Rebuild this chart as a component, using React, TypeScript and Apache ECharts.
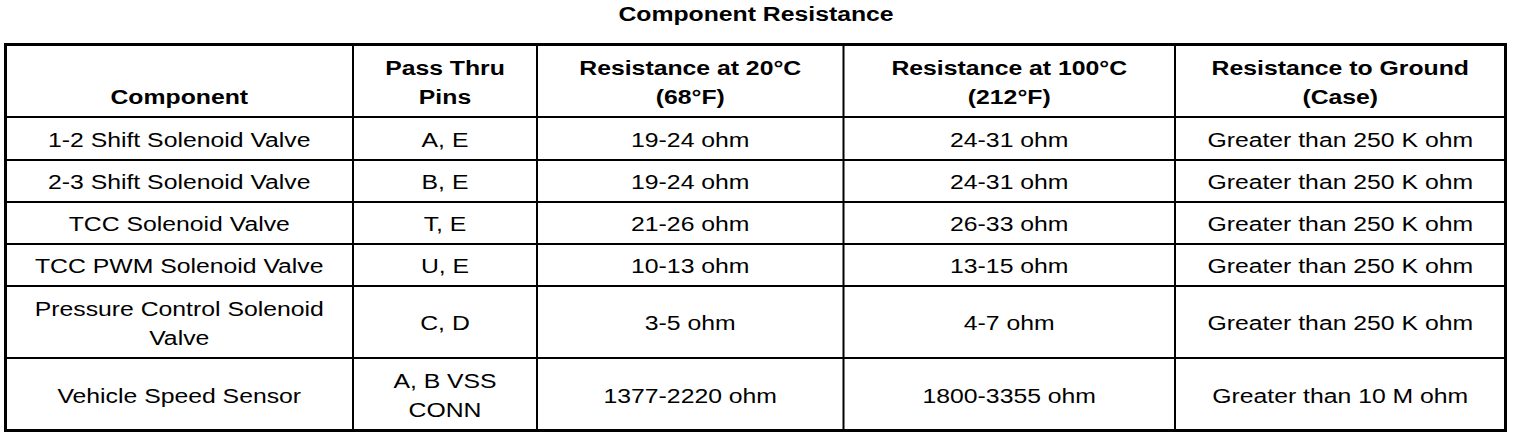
import { useEffect, useRef } from 'react';
import * as echarts from 'echarts';

const title = 'Component Resistance';

const headers = [
  'Component',
  'Pass Thru\nPins',
  'Resistance at 20°C\n(68°F)',
  'Resistance at 100°C\n(212°F)',
  'Resistance to Ground\n(Case)',
];

const components = [
  '1-2 Shift Solenoid Valve',
  '2-3 Shift Solenoid Valve',
  'TCC Solenoid Valve',
  'TCC PWM Solenoid Valve',
  'Pressure Control Solenoid\nValve',
  'Vehicle Speed Sensor',
];

const passThruPins = ['A, E', 'B, E', 'T, E', 'U, E', 'C, D', 'A, B VSS\nCONN'];

const resistance20C = ['19-24 ohm', '19-24 ohm', '21-26 ohm', '10-13 ohm', '3-5 ohm', '1377-2220 ohm'];

const resistance100C = ['24-31 ohm', '24-31 ohm', '26-33 ohm', '13-15 ohm', '4-7 ohm', '1800-3355 ohm'];

const resistanceGround = [
  'Greater than 250 K ohm',
  'Greater than 250 K ohm',
  'Greater than 250 K ohm',
  'Greater than 250 K ohm',
  'Greater than 250 K ohm',
  'Greater than 10 M ohm',
];

// table layout (page pixels)
const colEdges = [5.5, 353, 537, 843.5, 1175, 1505.5];
const rowEdges = [44.5, 117, 160, 202, 244, 286, 358, 430.5];
const FONT = '"Liberation Sans", Arial, Helvetica, sans-serif';
const FONT_SIZE = 21;
const STRETCH = 1.18;
const LINE_H = 29;

function cellText(text: string, cx: number, y: number, bold: boolean, vAlign: 'middle' | 'bottom') {
  const lines = text.split('\n');
  return lines.map((line, i) => {
    let ly;
    if (vAlign === 'middle') {
      ly = y + (i - (lines.length - 1) / 2) * LINE_H;
    } else {
      ly = y - (lines.length - 1 - i) * LINE_H;
    }
    return {
      type: 'text',
      x: cx,
      y: ly,
      scaleX: STRETCH,
      silent: true,
      style: {
        text: line,
        x: 0,
        y: 0,
        fill: '#000',
        font: `${bold ? 'bold ' : ''}${FONT_SIZE}px ${FONT}`,
        textAlign: 'center',
        textVerticalAlign: 'middle',
      },
    };
  });
}

export default function App() {
  const chartRef = useRef<HTMLDivElement>(null);

  useEffect(() => {
    if (!chartRef.current) return;
    const chart = echarts.init(chartRef.current, null, { renderer: 'svg' });

    const elements: any[] = [];

    // title
    elements.push(...cellText(title, 756, 14, true, 'middle'));

    // header row (bottom aligned)
    headers.forEach((h, c) => {
      const cx = (colEdges[c] + colEdges[c + 1]) / 2;
      elements.push(...cellText(h, cx, 97, true, 'bottom'));
    });

    // body rows
    const columns = [components, passThruPins, resistance20C, resistance100C, resistanceGround];
    components.forEach((_, r) => {
      const cy = (rowEdges[r + 1] + rowEdges[r + 2]) / 2 + 1;
      columns.forEach((col, c) => {
        const cx = (colEdges[c] + colEdges[c + 1]) / 2;
        elements.push(...cellText(col[r], cx, cy, false, 'middle'));
      });
    });

    // inner grid lines
    for (let c = 1; c < colEdges.length - 1; c++) {
      elements.push({
        type: 'line',
        silent: true,
        shape: { x1: colEdges[c], y1: rowEdges[0], x2: colEdges[c], y2: rowEdges[rowEdges.length - 1] },
        style: { stroke: '#000', lineWidth: 2 },
      });
    }
    for (let r = 1; r < rowEdges.length - 1; r++) {
      elements.push({
        type: 'line',
        silent: true,
        shape: { x1: colEdges[0], y1: rowEdges[r], x2: colEdges[colEdges.length - 1], y2: rowEdges[r] },
        style: { stroke: '#000', lineWidth: 2 },
      });
    }

    // outer border
    elements.push({
      type: 'rect',
      silent: true,
      shape: {
        x: colEdges[0],
        y: rowEdges[0],
        width: colEdges[colEdges.length - 1] - colEdges[0],
        height: rowEdges[rowEdges.length - 1] - rowEdges[0],
      },
      style: { fill: 'none', stroke: '#000', lineWidth: 3 },
    });

    chart.setOption({
      animation: false,
      backgroundColor: '#fff',
      graphic: { elements },
    });

    const handleResize = () => chart.resize();
    window.addEventListener('resize', handleResize);
    return () => {
      window.removeEventListener('resize', handleResize);
      chart.dispose();
    };
  }, []);

  return (
    <div
      ref={chartRef}
      style={{ position: 'absolute', left: 0, top: 0, width: '1520px', height: '438px' }}
    />
  );
}
